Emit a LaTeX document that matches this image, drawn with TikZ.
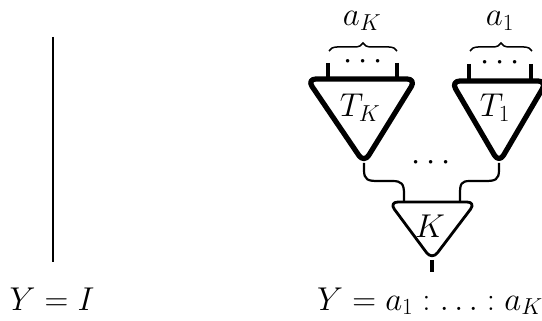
\documentclass[tikz,border=0pt]{standalone}
\usepackage{fix-cm}
\usetikzlibrary{decorations.pathreplacing}
\begin{document}
\begin{tikzpicture}[x=1pt,y=-1pt,
  tri/.style={line width=5.2pt, line join=round, rounded corners=9pt},
  ktri/.style={line width=2.8pt, line join=round, rounded corners=9pt},
  leg/.style={line width=4.5pt},
  wire/.style={line width=2.2pt},
  bracestyle/.style={decorate, decoration={brace, amplitude=8pt}, line width=1.5pt},
  lbl/.style={font=\fontsize{33}{40}\selectfont, inner sep=0pt}]
\useasboundingbox (0,0) rectangle (542,321);
\clip (0,0) rectangle (542,321);

% identity
\coordinate (itop) at (53,37);
\coordinate (ibot) at (53,262);
\draw[line width=2.8pt] (itop) -- (ibot);
\node[lbl, anchor=base] (ylabel) at (52,310) {$Y = I$};

% T_K
\coordinate (tkA) at (364,163);
\coordinate (tkL) at (307,79);
\coordinate (tkR) at (416,79);
\draw[tri] (tkA) -- (tkL) -- (tkR) -- cycle;
\coordinate (tkl1) at (328,63);
\coordinate (tkl1b) at (328,79);
\coordinate (tkl2) at (397,63);
\coordinate (tkl2b) at (397,79);
\draw[leg] (tkl1) -- (tkl1b);
\draw[leg] (tkl2) -- (tkl2b);
\node[lbl, anchor=base] (tkdots) at (363,70) {$\cdots$};
\draw[bracestyle] (329,51) -- (397,51);
\node[lbl, anchor=base] (aK) at (362,26) {$a_K$};
\node[lbl] (TK) at (360,108) {$T_K$};

% T_1
\coordinate (t1A) at (499,163);
\coordinate (t1L) at (451,81);
\coordinate (t1R) at (547,81);
\draw[tri] (t1A) -- (t1L) -- (t1R) -- cycle;
\coordinate (t1l1) at (469,64);
\coordinate (t1l1b) at (469,81);
\coordinate (t1l2) at (531,64);
\coordinate (t1l2b) at (531,81);
\draw[leg] (t1l1) -- (t1l1b);
\draw[leg] (t1l2) -- (t1l2b);
\node[lbl, anchor=base] (t1dots) at (500,71) {$\cdots$};
\draw[bracestyle] (470,51) -- (532,51);
\node[lbl, anchor=base] (a1) at (500,26) {$a_1$};
\node[lbl] (T1) at (495,108) {$T_1$};

% middle dots
\node[lbl, anchor=base] (middots) at (431,171) {$\cdots$};

% K
\coordinate (kA) at (432,260);
\coordinate (kL) at (389,202);
\coordinate (kR) at (476,202);
\coordinate (kin1) at (404,202);
\coordinate (kin2) at (460,202);
\coordinate (kout) at (432,272);
\draw[ktri] (kA) -- (kL) -- (kR) -- cycle;
\draw[leg] (kA) -- (kout);
\node[lbl] (K) at (430,226) {$K$};

% wires
\draw[wire] (tkA) -- (364,170) .. controls (364,180) and (368,181) .. (378,181) -- (392,181) .. controls (402,181) and (404,184) .. (404,194) -- (kin1);
\draw[wire] (t1A) -- (499,170) .. controls (499,180) and (495,181) .. (485,181) -- (470,181) .. controls (461,181) and (460,184) .. (460,194) -- (kin2);

\node[lbl, anchor=base] (rlabel) at (430,310) {$Y = a_1 : \ldots : a_K$};
\end{tikzpicture}
\end{document}
